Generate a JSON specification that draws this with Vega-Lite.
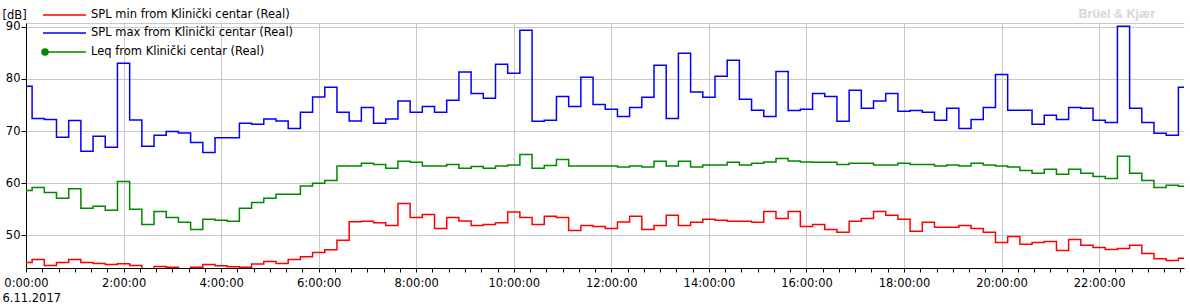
{
  "$schema": "https://vega.github.io/schema/vega-lite/v6.json",
  "autosize": {"type": "none"},
  "width": 1158,
  "height": 245,
  "padding": {"left": 26, "top": 23, "right": 6, "bottom": 37},
  "background": "#ffffff",
  "title": {"text": "Brüel & Kjær", "anchor": "end", "frame": "group", "color": "#d6d6d6", "font": "Liberation Sans", "fontSize": 12.5, "fontWeight": "bold", "offset": 5, "dx": -29, "dy": 16},
  "data": {"values": [
    {"t":0,"min":44.8,"max":78.6,"leq":58.6},
    {"t":0.25,"min":45.4,"max":72.4,"leq":59.2},
    {"t":0.5,"min":44.25,"max":72.2,"leq":58.2},
    {"t":0.75,"min":44.8,"max":68.8,"leq":57.1},
    {"t":1,"min":45.4,"max":72.0,"leq":58.95},
    {"t":1.25,"min":44.8,"max":66.1,"leq":55.2},
    {"t":1.5,"min":44.6,"max":69.0,"leq":55.6},
    {"t":1.75,"min":44.4,"max":66.9,"leq":54.8},
    {"t":2,"min":44.55,"max":83.0,"leq":60.35},
    {"t":2.25,"min":44.25,"max":72.1,"leq":55.0},
    {"t":2.5,"min":43.4,"max":67.1,"leq":52.1},
    {"t":2.75,"min":44.05,"max":69.2,"leq":54.6},
    {"t":3,"min":43.9,"max":69.9,"leq":53.45},
    {"t":3.25,"min":43.4,"max":69.6,"leq":52.5},
    {"t":3.5,"min":43.9,"max":67.8,"leq":51.15},
    {"t":3.75,"min":44.4,"max":65.9,"leq":53.1},
    {"t":4,"min":44.2,"max":68.7,"leq":52.9},
    {"t":4.25,"min":44.0,"max":68.7,"leq":52.7},
    {"t":4.5,"min":43.9,"max":71.5,"leq":55.2},
    {"t":4.75,"min":44.5,"max":71.3,"leq":56.3},
    {"t":5,"min":45.0,"max":72.3,"leq":57.1},
    {"t":5.25,"min":44.6,"max":71.9,"leq":57.9},
    {"t":5.5,"min":45.4,"max":70.5,"leq":57.9},
    {"t":5.75,"min":45.9,"max":73.6,"leq":59.45},
    {"t":6,"min":46.7,"max":76.5,"leq":59.97},
    {"t":6.25,"min":47.25,"max":78.4,"leq":60.5},
    {"t":6.5,"min":49.05,"max":73.6,"leq":63.3},
    {"t":6.75,"min":52.6,"max":71.9,"leq":63.3},
    {"t":7,"min":52.7,"max":74.5,"leq":63.8},
    {"t":7.25,"min":52.4,"max":71.5,"leq":63.6},
    {"t":7.5,"min":51.9,"max":72.3,"leq":62.85},
    {"t":7.75,"min":56.1,"max":75.75,"leq":64.2},
    {"t":8,"min":53.45,"max":73.6,"leq":64.0},
    {"t":8.25,"min":54.0,"max":74.7,"leq":63.3},
    {"t":8.5,"min":51.3,"max":73.6,"leq":63.3},
    {"t":8.75,"min":53.45,"max":75.9,"leq":63.6},
    {"t":9,"min":52.75,"max":81.3,"leq":62.85},
    {"t":9.25,"min":51.9,"max":77.2,"leq":63.2},
    {"t":9.5,"min":52.1,"max":76.3,"leq":62.85},
    {"t":9.75,"min":52.4,"max":82.8,"leq":63.3},
    {"t":10,"min":54.5,"max":81.05,"leq":63.5},
    {"t":10.25,"min":53.45,"max":89.3,"leq":65.5},
    {"t":10.5,"min":52.1,"max":71.85,"leq":62.85},
    {"t":10.75,"min":53.65,"max":72.05,"leq":63.4},
    {"t":11,"min":53.45,"max":76.6,"leq":64.55},
    {"t":11.25,"min":50.95,"max":74.7,"leq":63.3},
    {"t":11.5,"min":51.9,"max":80.3,"leq":63.3},
    {"t":11.75,"min":51.7,"max":75.1,"leq":63.3},
    {"t":12,"min":51.3,"max":74.15,"leq":63.3},
    {"t":12.25,"min":52.55,"max":72.8,"leq":63.1},
    {"t":12.5,"min":53.65,"max":74.5,"leq":63.3},
    {"t":12.75,"min":51.15,"max":76.45,"leq":63.1},
    {"t":13,"min":51.9,"max":82.6,"leq":64.2},
    {"t":13.25,"min":53.85,"max":72.4,"leq":63.3},
    {"t":13.5,"min":51.9,"max":84.9,"leq":64.2},
    {"t":13.75,"min":52.5,"max":77.5,"leq":63.1},
    {"t":14,"min":53.1,"max":76.45,"leq":63.5},
    {"t":14.25,"min":52.9,"max":80.5,"leq":63.5},
    {"t":14.5,"min":52.7,"max":83.55,"leq":64.0},
    {"t":14.75,"min":52.7,"max":76.1,"leq":63.5},
    {"t":15,"min":52.5,"max":74.0,"leq":63.8},
    {"t":15.25,"min":54.6,"max":72.8,"leq":64.05},
    {"t":15.5,"min":53.25,"max":81.4,"leq":64.75},
    {"t":15.75,"min":54.6,"max":73.95,"leq":64.25},
    {"t":16,"min":51.7,"max":74.15,"leq":64.05},
    {"t":16.25,"min":52.1,"max":77.2,"leq":64.0},
    {"t":16.5,"min":51.15,"max":76.6,"leq":64.0},
    {"t":16.75,"min":50.6,"max":71.85,"leq":63.6},
    {"t":17,"min":52.7,"max":77.8,"leq":63.8},
    {"t":17.25,"min":53.25,"max":74.35,"leq":63.8},
    {"t":17.5,"min":54.6,"max":75.75,"leq":63.5},
    {"t":17.75,"min":53.85,"max":77.2,"leq":63.5},
    {"t":18,"min":53.1,"max":73.8,"leq":63.8},
    {"t":18.25,"min":50.8,"max":73.95,"leq":63.6},
    {"t":18.5,"min":52.5,"max":73.6,"leq":63.6},
    {"t":18.75,"min":51.55,"max":72.05,"leq":63.3},
    {"t":19,"min":51.55,"max":74.35,"leq":63.5},
    {"t":19.25,"min":51.9,"max":70.5,"leq":63.3},
    {"t":19.5,"min":51.3,"max":72.2,"leq":63.8},
    {"t":19.75,"min":50.6,"max":74.5,"leq":63.5},
    {"t":20,"min":48.65,"max":80.85,"leq":63.3},
    {"t":20.25,"min":49.8,"max":74.0,"leq":63.1},
    {"t":20.5,"min":48.3,"max":74.0,"leq":62.45},
    {"t":20.75,"min":48.65,"max":71.3,"leq":61.9},
    {"t":21,"min":48.85,"max":73.0,"leq":62.65},
    {"t":21.25,"min":47.1,"max":72.2,"leq":61.7},
    {"t":21.5,"min":49.2,"max":74.5,"leq":62.65},
    {"t":21.75,"min":48.1,"max":74.35,"leq":61.9},
    {"t":22,"min":47.7,"max":72.05,"leq":61.3},
    {"t":22.25,"min":47.3,"max":71.65,"leq":60.9},
    {"t":22.5,"min":47.5,"max":90.1,"leq":65.15},
    {"t":22.75,"min":48.1,"max":74.35,"leq":61.9},
    {"t":23,"min":46.55,"max":71.65,"leq":60.5},
    {"t":23.25,"min":45.5,"max":69.55,"leq":59.2},
    {"t":23.5,"min":45.2,"max":69.2,"leq":59.6},
    {"t":23.75,"min":45.6,"max":78.4,"leq":59.4}
  ]},
  "transform": [{"fold": ["min", "max", "leq"], "as": ["series", "v"]}],
  "mark": {"type": "line", "interpolate": "step", "strokeWidth": 1.5, "clip": true},
  "encoding": {
    "x": {
      "field": "t", "type": "quantitative",
      "scale": {"domain": [0, 23.74], "nice": false, "zero": false},
      "axis": {
        "title": "6.11.2017",
        "titleAnchor": "start", "titleAlign": "left", "titleBaseline": "middle",
        "titleX": -24, "titleY": 30,
        "values": [0,0.3333333,0.6666667,1,1.3333333,1.6666667,2,2.3333333,2.6666667,3,3.3333333,3.6666667,4,4.3333333,4.6666667,5,5.3333333,5.6666667,6,6.3333333,6.6666667,7,7.3333333,7.6666667,8,8.3333333,8.6666667,9,9.3333333,9.6666667,10,10.3333333,10.6666667,11,11.3333333,11.6666667,12,12.3333333,12.6666667,13,13.3333333,13.6666667,14,14.3333333,14.6666667,15,15.3333333,15.6666667,16,16.3333333,16.6666667,17,17.3333333,17.6666667,18,18.3333333,18.6666667,19,19.3333333,19.6666667,20,20.3333333,20.6666667,21,21.3333333,21.6666667,22,22.3333333,22.6666667,23,23.3333333,23.6666667],
        "labelExpr": "datum.value % 2 === 0 ? datum.value + ':00:00' : ''",
        "labelFlush": false, "labelOverlap": false, "labelBound": false,
        "labelDx": 3, "labelPadding": 5,
        "tickSize": 4,
        "grid": true,
        "gridOpacity": {"condition": {"test": "datum.value % 2 === 0", "value": 1}, "value": 0}
      }
    },
    "y": {
      "field": "v", "type": "quantitative",
      "scale": {"domain": [43.75, 90.7], "nice": false, "zero": false},
      "axis": {
        "title": "[dB]",
        "titleAngle": 0, "titleAlign": "left", "titleBaseline": "middle",
        "titleX": -24, "titleY": -8,
        "values": [50, 60, 70, 80, 90, 90.7],
        "labelExpr": "datum.value > 90.5 ? '' : datum.label",
        "tickOpacity": {"condition": {"test": "datum.value > 90.5", "value": 0}, "value": 1},
        "tickSize": 5, "labelPadding": 1,
        "grid": true
      }
    },
    "color": {
      "field": "series", "type": "nominal",
      "scale": {"domain": ["min", "max", "leq"], "range": ["#ff0000", "#0000ff", "#008800"]},
      "legend": {
        "orient": "none", "legendX": 17, "legendY": -14, "title": null,
        "padding": 0,
        "symbolSize": 100, "symbolStrokeWidth": 1.5, "symbolType": "M-1.2,0H7.4",
        "labelOffset": 36, "rowPadding": 6,
        "labelLimit": 0,
        "labelFont": "DejaVu Sans", "labelFontSize": 11.5, "labelColor": "#000000",
        "labelExpr": "datum.value === 'min' ? 'SPL min from Klinički centar (Real)' : datum.value === 'max' ? 'SPL max from Klinički centar (Real)' : 'Leq from Klinički centar (Real)'",
        "encode": {
          "symbols": {
            "update": {
              "shape": {"signal": "datum.value === 'leq' ? 'M-0.8,0H7.4M-1.4,0A0.6,0.6,0,1,0,-0.2,0A0.6,0.6,0,1,0,-1.4,0Z' : 'M-1.2,0H7.4'"},
              "fill": {"signal": "datum.value === 'leq' ? '#008800' : 'transparent'"}
            }
          }
        }
      }
    }
  },
  "config": {
    "view": {"stroke": null},
    "font": "DejaVu Sans",
    "axis": {
      "labelFont": "DejaVu Sans", "labelFontSize": 11.5, "labelColor": "#000000",
      "titleFont": "DejaVu Sans", "titleFontSize": 11.5, "titleFontWeight": "normal", "titleColor": "#000000",
      "domainColor": "#000000", "domainWidth": 1,
      "tickColor": "#000000", "tickWidth": 1,
      "gridColor": "#c8c8c8", "gridWidth": 1
    },
    "legend": {
      "labelFont": "DejaVu Sans", "labelFontSize": 11.5, "labelColor": "#000000"
    }
  }
}
